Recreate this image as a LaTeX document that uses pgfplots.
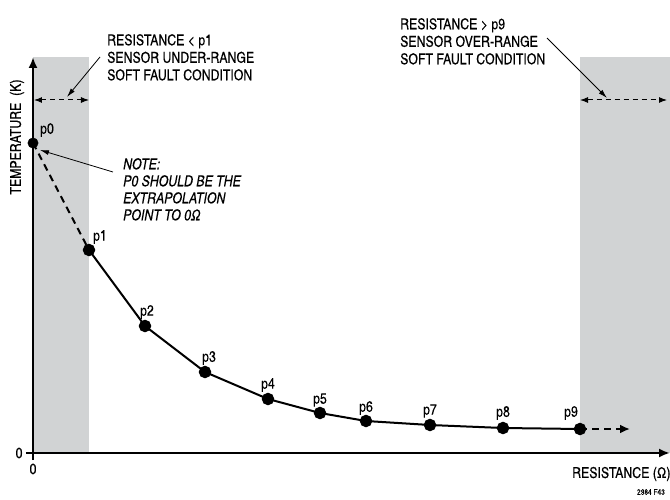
\documentclass[border=0pt]{standalone}
\usepackage{fontspec}
\setmainfont{TeX Gyre Heros Cn}[FakeBold=0.1]
\usepackage{pgfplots}
\pgfplotsset{compat=1.18}
\usetikzlibrary{arrows.meta}
\definecolor{shade}{RGB}{209,211,212}
\begin{document}
\begin{tikzpicture}
\begin{axis}[
  scale only axis, width=637pt, height=396pt,
  xmin=0, xmax=637, ymin=0, ymax=396,
  axis lines=left,
  axis line style={line width=2.2pt, -{Latex[length=11pt,width=9pt]}},
  xtick={0}, ytick={0},
  tick style={black, line width=1.2pt},
  major tick length=7pt,
  tick align=outside,
  ticklabel style={font=\fontsize{15}{17}\selectfont},
  /pgf/number format/assume math mode=true,
  clip=false,
  axis on top,
]
% shaded fault regions
\addplot[fill=shade, draw=none] coordinates {(0,396) (56,396)} \closedcycle;
\addplot[fill=shade, draw=none] coordinates {(547,396) (637,396)} \closedcycle;
% curve
\addplot[line width=2pt, dash pattern=on 7pt off 5pt] coordinates {(0,310) (56,203)};
\addplot[line width=2pt, dash pattern=on 7pt off 5pt, -{Latex[length=10pt,width=9pt]}] coordinates {(547,24) (597,24)};
\addplot[line width=2pt, mark=*, mark size=5.2pt, mark options={solid}] coordinates {
 (56,203) (112,127) (172,81) (235,54) (287,40) (333,32) (397,28) (470,25) (547,24)};
\addplot[only marks, mark=*, mark size=5.2pt] coordinates {(0,310)};
% point labels
\begin{scope}[every node/.style={font=\fontsize{15}{17}\selectfont, inner sep=0pt}]
\node at (axis cs:14,323) {p0};
\node at (axis cs:67,216) {p1};
\node at (axis cs:114,141) {p2};
\node at (axis cs:176,95) {p3};
\node at (axis cs:235,68) {p4};
\node at (axis cs:287,53) {p5};
\node at (axis cs:333,45) {p6};
\node at (axis cs:397,42) {p7};
\node at (axis cs:470,40) {p8};
\node at (axis cs:538,40) {p9};
\end{scope}
% range arrows
\draw[line width=1pt, dash pattern=on 5pt off 4pt, {Latex[length=8pt,width=6pt]}-{Latex[length=8pt,width=6pt]}] (axis cs:1,353) -- (axis cs:56,353);
\draw[line width=1pt, dash pattern=on 5pt off 4pt, {Latex[length=8pt,width=6pt]}-{Latex[length=8pt,width=6pt]}] (axis cs:547,353) -- (axis cs:634,353);
% annotation arrows
\draw[line width=0.8pt, -{Latex[length=9pt,width=5pt]}] (axis cs:67,396) -- (axis cs:34,356);
\draw[line width=0.8pt, -{Latex[length=9pt,width=5pt]}] (axis cs:514,415) -- (axis cs:574,355);
\draw[line width=0.8pt, -{Latex[length=9pt,width=5pt]}] (axis cs:80,281) -- (axis cs:7,303);
% texts
\node[anchor=north west, inner sep=0pt, align=left, font=\fontsize{15}{17.5}\selectfont] at (axis cs:74,419)
  {RESISTANCE < p1\\SENSOR UNDER-RANGE\\SOFT FAULT CONDITION};
\node[anchor=north west, inner sep=0pt, align=left, font=\fontsize{15}{17.5}\selectfont] at (axis cs:367,435)
  {RESISTANCE > p9\\SENSOR OVER-RANGE\\SOFT FAULT CONDITION};
\node[anchor=north west, inner sep=0pt, align=left, font=\fontsize{15}{17}\selectfont\itshape] at (axis cs:90,295)
  {NOTE:\\P0 SHOULD BE THE\\EXTRAPOLATION\\POINT TO 0Ω};
\node[rotate=90, font=\fontsize{15}{17}\selectfont] at (axis cs:-16,316) {TEMPERATURE\ \ (K)};
\node[anchor=west, inner sep=0pt, font=\fontsize{15}{17}\selectfont] at (axis cs:539,-21) {RESISTANCE (Ω)};
\node[anchor=east, inner sep=0pt, font=\fontsize{8}{9}\selectfont] at (axis cs:632,-39) {2984 F43};
\end{axis}
\pgfresetboundingbox
\path (-33pt,-46pt) rectangle (637pt,453pt);
\end{tikzpicture}
\end{document}
